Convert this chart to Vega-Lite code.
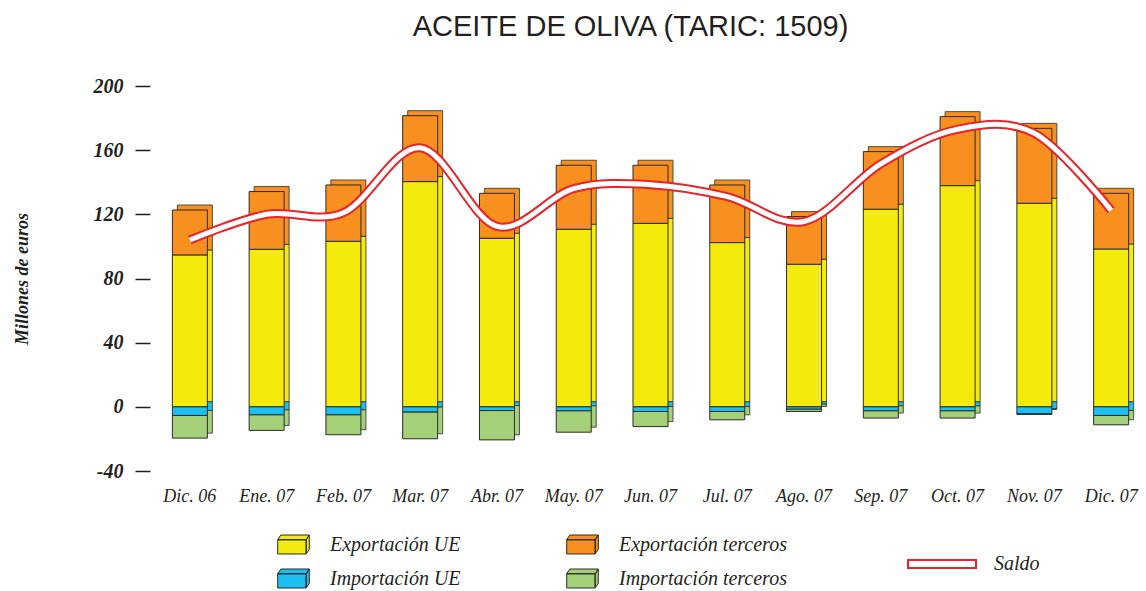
{
  "$schema": "https://vega.github.io/schema/vega-lite/v6.json",
  "width": 987,
  "height": 385,
  "autosize": {"type": "none"},
  "padding": {"left": 157, "top": 86, "right": 2, "bottom": 120},
  "background": "white",
  "title": {"text": "ACEITE DE OLIVA (TARIC: 1509)", "font": "Liberation Sans", "fontSize": 29, "fontWeight": "normal", "color": "#231f20", "anchor": "middle", "offset": 34, "dx": -20},
  "config": {
    "view": {"stroke": null},
    "axis": {"grid": false},
    "axisX": {"domain": false, "ticks": false, "labelFont": "Liberation Serif", "labelFontStyle": "italic", "labelFontSize": 18, "labelColor": "#231f20", "labelPadding": 16, "labelAngle": 0},
    "axisY": {"domain": false, "offset": 7, "tickSize": 15, "tickWidth": 1.5, "tickColor": "#231f20", "labelFont": "Liberation Serif", "labelFontStyle": "italic", "labelFontWeight": "bold", "labelFontSize": 20, "labelPadding": 12, "labelColor": "#231f20", "titleFont": "Liberation Serif", "titleFontStyle": "italic", "titleFontWeight": "bold", "titleFontSize": 18, "titleColor": "#231f20", "titlePadding": 62}
  },
  "datasets": {
    "bars": [
      {"mes": "Dic. 06", "serie": "Exportación UE", "ord": 1, "valor": 94.7},
      {"mes": "Dic. 06", "serie": "Exportación terceros", "ord": 2, "valor": 28.0},
      {"mes": "Dic. 06", "serie": "Importación UE", "ord": 3, "valor": -5.4},
      {"mes": "Dic. 06", "serie": "Importación terceros", "ord": 4, "valor": -14.1},
      {"mes": "Ene. 07", "serie": "Exportación UE", "ord": 1, "valor": 98.2},
      {"mes": "Ene. 07", "serie": "Exportación terceros", "ord": 2, "valor": 36.0},
      {"mes": "Ene. 07", "serie": "Importación UE", "ord": 3, "valor": -5.0},
      {"mes": "Ene. 07", "serie": "Importación terceros", "ord": 4, "valor": -9.7},
      {"mes": "Feb. 07", "serie": "Exportación UE", "ord": 1, "valor": 103.2},
      {"mes": "Feb. 07", "serie": "Exportación terceros", "ord": 2, "valor": 35.1},
      {"mes": "Feb. 07", "serie": "Importación UE", "ord": 3, "valor": -5.0},
      {"mes": "Feb. 07", "serie": "Importación terceros", "ord": 4, "valor": -12.4},
      {"mes": "Mar. 07", "serie": "Exportación UE", "ord": 1, "valor": 140.4},
      {"mes": "Mar. 07", "serie": "Exportación terceros", "ord": 2, "valor": 41.1},
      {"mes": "Mar. 07", "serie": "Importación UE", "ord": 3, "valor": -3.3},
      {"mes": "Mar. 07", "serie": "Importación terceros", "ord": 4, "valor": -16.6},
      {"mes": "Abr. 07", "serie": "Exportación UE", "ord": 1, "valor": 105.1},
      {"mes": "Abr. 07", "serie": "Exportación terceros", "ord": 2, "valor": 28.0},
      {"mes": "Abr. 07", "serie": "Importación UE", "ord": 3, "valor": -2.3},
      {"mes": "Abr. 07", "serie": "Importación terceros", "ord": 4, "valor": -18.3},
      {"mes": "May. 07", "serie": "Exportación UE", "ord": 1, "valor": 110.7},
      {"mes": "May. 07", "serie": "Exportación terceros", "ord": 2, "valor": 39.9},
      {"mes": "May. 07", "serie": "Importación UE", "ord": 3, "valor": -2.5},
      {"mes": "May. 07", "serie": "Importación terceros", "ord": 4, "valor": -13.3},
      {"mes": "Jun. 07", "serie": "Exportación UE", "ord": 1, "valor": 114.4},
      {"mes": "Jun. 07", "serie": "Exportación terceros", "ord": 2, "valor": 36.2},
      {"mes": "Jun. 07", "serie": "Importación UE", "ord": 3, "valor": -2.9},
      {"mes": "Jun. 07", "serie": "Importación terceros", "ord": 4, "valor": -9.4},
      {"mes": "Jul. 07", "serie": "Exportación UE", "ord": 1, "valor": 102.4},
      {"mes": "Jul. 07", "serie": "Exportación terceros", "ord": 2, "valor": 35.9},
      {"mes": "Jul. 07", "serie": "Importación UE", "ord": 3, "valor": -2.9},
      {"mes": "Jul. 07", "serie": "Importación terceros", "ord": 4, "valor": -5.2},
      {"mes": "Ago. 07", "serie": "Exportación UE", "ord": 1, "valor": 88.9},
      {"mes": "Ago. 07", "serie": "Exportación terceros", "ord": 2, "valor": 29.7},
      {"mes": "Ago. 07", "serie": "Importación UE", "ord": 3, "valor": -1.5},
      {"mes": "Ago. 07", "serie": "Importación terceros", "ord": 4, "valor": -1.4},
      {"mes": "Sep. 07", "serie": "Exportación UE", "ord": 1, "valor": 123.2},
      {"mes": "Sep. 07", "serie": "Exportación terceros", "ord": 2, "valor": 35.9},
      {"mes": "Sep. 07", "serie": "Importación UE", "ord": 3, "valor": -2.5},
      {"mes": "Sep. 07", "serie": "Importación terceros", "ord": 4, "valor": -4.5},
      {"mes": "Oct. 07", "serie": "Exportación UE", "ord": 1, "valor": 137.9},
      {"mes": "Oct. 07", "serie": "Exportación terceros", "ord": 2, "valor": 43.0},
      {"mes": "Oct. 07", "serie": "Importación UE", "ord": 3, "valor": -2.5},
      {"mes": "Oct. 07", "serie": "Importación terceros", "ord": 4, "valor": -4.5},
      {"mes": "Nov. 07", "serie": "Exportación UE", "ord": 1, "valor": 126.9},
      {"mes": "Nov. 07", "serie": "Exportación terceros", "ord": 2, "valor": 46.7},
      {"mes": "Nov. 07", "serie": "Importación UE", "ord": 3, "valor": -4.4},
      {"mes": "Nov. 07", "serie": "Importación terceros", "ord": 4, "valor": -0.3},
      {"mes": "Dic. 07", "serie": "Exportación UE", "ord": 1, "valor": 98.4},
      {"mes": "Dic. 07", "serie": "Exportación terceros", "ord": 2, "valor": 34.7},
      {"mes": "Dic. 07", "serie": "Importación UE", "ord": 3, "valor": -5.4},
      {"mes": "Dic. 07", "serie": "Importación terceros", "ord": 4, "valor": -5.8}
    ],
    "saldo": [
      {"mes": "Dic. 06", "saldo": 104},
      {"mes": "Ene. 07", "saldo": 120},
      {"mes": "Feb. 07", "saldo": 121},
      {"mes": "Mar. 07", "saldo": 161.5},
      {"mes": "Abr. 07", "saldo": 112.5},
      {"mes": "May. 07", "saldo": 136},
      {"mes": "Jun. 07", "saldo": 138.5},
      {"mes": "Jul. 07", "saldo": 131},
      {"mes": "Ago. 07", "saldo": 115.5},
      {"mes": "Sep. 07", "saldo": 151.5},
      {"mes": "Oct. 07", "saldo": 173},
      {"mes": "Nov. 07", "saldo": 170.5},
      {"mes": "Dic. 07", "saldo": 122.5}
    ]
  },
  "layer": [
    {
      "mark": {"type": "rule", "color": "#8a8a8a", "strokeWidth": 1.5},
      "encoding": {"y": {"datum": 0, "type": "quantitative", "scale": {"domain": [-40, 200], "nice": false}, "axis": {"values": [-40, 0, 40, 80, 120, 160, 200], "labelExpr": "'' + datum.value"}, "title": "Millones de euros"}}
    },
    {
      "mark": {"type": "rule", "color": "#8a8a8a", "strokeWidth": 1.5, "yOffset": -4},
      "encoding": {"y": {"datum": 0, "type": "quantitative", "title": "Millones de euros"}}
    },
    {
      "data": {"name": "bars"},
      "mark": {"type": "bar", "xOffset": 5, "yOffset": -5, "stroke": "#2b2b2b", "strokeWidth": 0.8, "opacity": 1},
      "encoding": {
        "x": {"field": "mes", "type": "nominal", "sort": ["Dic. 06","Ene. 07","Feb. 07","Mar. 07","Abr. 07","May. 07","Jun. 07","Jul. 07","Ago. 07","Sep. 07","Oct. 07","Nov. 07","Dic. 07"], "scale": {"paddingInner": 0.544, "paddingOuter": 0.2}, "title": null},
        "y": {"field": "valor", "type": "quantitative", "stack": "zero", "title": "Millones de euros"},
        "order": {"field": "ord", "type": "quantitative"},
        "color": {"field": "serie", "type": "nominal",
          "scale": {"domain": ["Exportación UE", "Exportación terceros", "Importación UE", "Importación terceros"], "range": ["#f4ea0b", "#f7901e", "#1cbff0", "#a3d078"]},
          "legend": {"orient": "none", "legendX": 120, "legendY": 442, "direction": "horizontal", "columns": 2, "columnPadding": 103, "rowPadding": 6, "title": null, "symbolType": "M-1,-0.3H0.8V0.6H-1Z M-1,-0.3L-0.8,-0.6H1L0.8,-0.3Z M0.8,-0.3L1,-0.6V0.3L0.8,0.6Z", "symbolSize": 1000, "symbolStrokeColor": "#2b2b2b", "symbolStrokeWidth": 1, "symbolOpacity": 1, "labelFont": "Liberation Serif", "labelFontStyle": "italic", "labelFontSize": 20, "labelColor": "#231f20", "labelOffset": 20, "labelLimit": 300, "padding": 0}
        }
      }
    },
    {
      "data": {"name": "bars"},
      "mark": {"type": "bar", "stroke": "#2b2b2b", "strokeWidth": 1, "opacity": 1},
      "encoding": {
        "x": {"field": "mes", "type": "nominal", "sort": ["Dic. 06","Ene. 07","Feb. 07","Mar. 07","Abr. 07","May. 07","Jun. 07","Jul. 07","Ago. 07","Sep. 07","Oct. 07","Nov. 07","Dic. 07"], "title": null},
        "y": {"field": "valor", "type": "quantitative", "stack": "zero", "title": "Millones de euros"},
        "order": {"field": "ord", "type": "quantitative"},
        "color": {"field": "serie", "type": "nominal"}
      }
    },
    {
      "data": {"name": "saldo"},
      "mark": {"type": "line", "interpolate": "cardinal", "strokeWidth": 9, "strokeCap": "butt"},
      "encoding": {
        "x": {"field": "mes", "type": "nominal", "sort": ["Dic. 06","Ene. 07","Feb. 07","Mar. 07","Abr. 07","May. 07","Jun. 07","Jul. 07","Ago. 07","Sep. 07","Oct. 07","Nov. 07","Dic. 07"], "title": null},
        "y": {"field": "saldo", "type": "quantitative", "title": "Millones de euros"},
        "stroke": {"datum": "Saldo", "type": "nominal", "scale": {"range": ["#e8232a"]},
          "legend": {"orient": "none", "legendX": 750, "legendY": 443, "title": null, "symbolType": "M-1,-0.12H1V0.12H-1Z", "symbolSize": 4624, "symbolFillColor": "white", "symbolStrokeWidth": 2, "symbolOpacity": 1, "labelFont": "Liberation Serif", "labelFontStyle": "italic", "labelFontSize": 20, "labelColor": "#231f20", "labelOffset": 17, "padding": 0}
        }
      }
    },
    {
      "data": {"name": "saldo"},
      "mark": {"type": "line", "interpolate": "cardinal", "strokeWidth": 5, "color": "white", "strokeCap": "butt"},
      "encoding": {
        "x": {"field": "mes", "type": "nominal", "sort": ["Dic. 06","Ene. 07","Feb. 07","Mar. 07","Abr. 07","May. 07","Jun. 07","Jul. 07","Ago. 07","Sep. 07","Oct. 07","Nov. 07","Dic. 07"], "title": null},
        "y": {"field": "saldo", "type": "quantitative", "title": "Millones de euros"}
      }
    }
  ]
}
